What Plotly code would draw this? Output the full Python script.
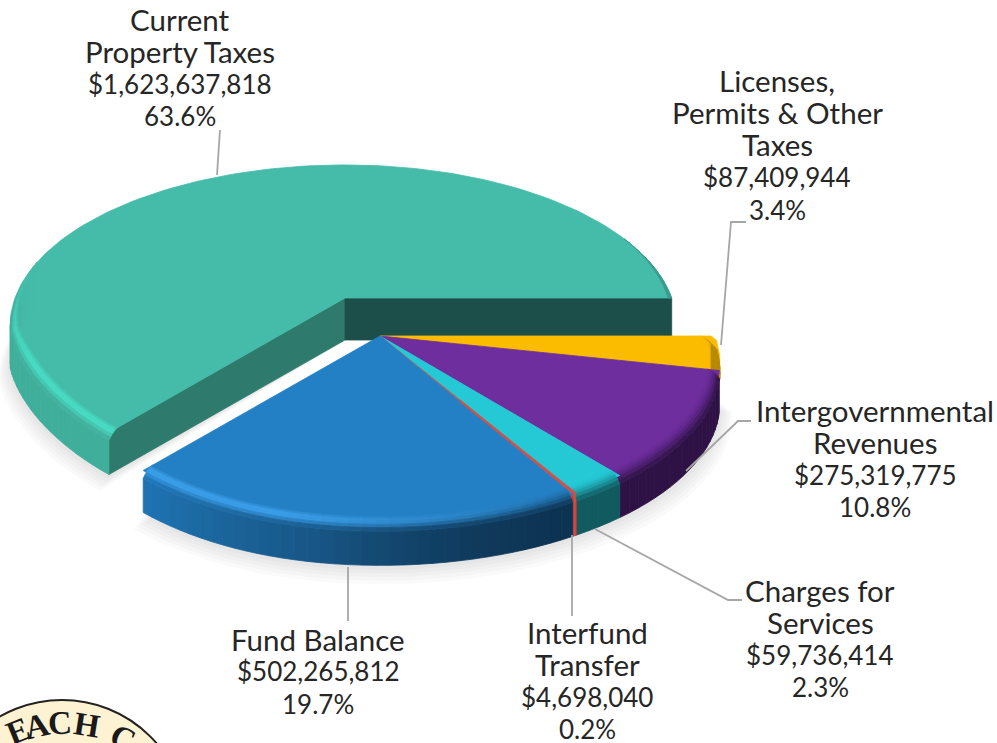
import math
import plotly.graph_objects as go

# ---- data ----
categories = [["Current", "Property Taxes"], ["Fund Balance"], ["Interfund", "Transfer"],
              ["Charges for", "Services"], ["Intergovernmental", "Revenues"],
              ["Licenses,", "Permits & Other", "Taxes"]]
amounts = [1623637818, 502265812, 4698040, 59736414, 275319775, 87409944]
percents = ["63.6%", "19.7%", "0.2%", "2.3%", "10.8%", "3.4%"]
top_colors = ["#45BBA9", "#2480C4", "#D0504A", "#25C8D5", "#6E2E9E", "#FBBC00"]
wall_colors = ["#3FAE9B", "#1F74B4", "#B03A36", "#115A60", "#2E1245", "#B98A00"]
bright_colors = ["#48DCC4", "#3C9FEA", "#D0504A", "#25C8D5", "#6E2E9E", "#FBBC00"]
label_centers = [(180, 19), (318, 639), (587, 632), (820, 590), (875, 410), (777, 80)]

W, H = 997, 743
A, B, K = 330, 155.6, 5.9
DEPTH = 42
LINE_STEP = 32.4
main_apex = (345, 298)
group_apex = (380, 336)
group_a = 331

total = sum(amounts)
starts = []
acc = 0.0
for v in amounts:
    starts.append(acc)
    acc += v / total * 360


def x_scale(apex, deg):
    s = 1.0
    d = deg % 360
    if 190 < d < 270:
        s *= 1 - 0.05 * math.sin(math.pi * (d - 190) / 80)
    if apex is main_apex and math.cos(math.radians(d)) > 0:
        s *= 0.99
    if apex is group_apex and d > 300:
        s *= 1 + 0.012 * min(1, (d - 300) / 50)
    return s


def project(apex, a, deg, r=1.0, z=0.0):
    t = math.radians(deg)
    y_depth = r * math.sin(t)
    f = 1 / (1 + y_depth / K)
    return (apex[0] + a * r * math.cos(t) * f * x_scale(apex, deg),
            apex[1] - B * y_depth * f + z)


def rgb(h):
    return [int(h[i:i + 2], 16) for i in (1, 3, 5)]


def mix(c1, c2, t):
    return "#%02x%02x%02x" % tuple(round(p + (q - p) * t) for p, q in zip(rgb(c1), rgb(c2)))


def frange(a, b, step):
    n = max(1, int(round((b - a) / step)))
    return [a + (b - a) * i / n for i in range(n + 1)]


fig = go.Figure()


def poly(pts, color, opacity=1.0, edge=True):
    xs = [p[0] for p in pts] + [pts[0][0]]
    ys = [p[1] for p in pts] + [pts[0][1]]
    fig.add_trace(go.Scatter(
        x=xs, y=ys, mode="lines", fill="toself", fillcolor=color, opacity=opacity,
        line=dict(color=color, width=0.8 if edge else 0), hoverinfo="skip", showlegend=False))


def shade(deg):
    """Wall lighting: bright on the left, falling off to the right."""
    if deg <= 229:
        return 1.0
    return max(0.42, 1.0 - (deg - 229) / 71 * 0.58)


def strip(apex, a, d0, d1, r0, z0, r1, z1, color):
    poly([project(apex, a, d0, r0, z0), project(apex, a, d1, r0, z0),
          project(apex, a, d1, r1, z1), project(apex, a, d0, r1, z1)], color)


def wall(apex, a, i, d0, d1, bevel_r=0.965, bevel_z=8):
    angles = frange(d0, d1, 2)
    for p, q in zip(angles, angles[1:]):
        m = (p + q) / 2
        base = wall_colors[i]
        depth = DEPTH
        if i == 1:
            base = mix("#000000", base, shade(m))
            base = mix(base, "#0D3355", 0.6 * max(0.0, min(1.0, (m - 262) / 30)))
        if i == 5:
            # the yellow wall is hidden by its neighbour below the rim
            depth = 8 + (m - d0) / (d1 - d0) * 28
        width = 1.0
        if i == 0:
            width = max(0.0, min(1.0, (m - 165) / 35))
            base = mix("#45BBA9", base, min(1.0, max(0.0, (m - 172) / 12)))
        strip(apex, a, p, q, 1, bevel_z * width, 1, depth, base)
        if i == 0:
            hl = 1.0
        elif i == 1:
            hl = max(0.0, min(1.0, (300 - m) / 45))
        else:
            hl = 0.0
        n = 6
        br = 1 - (1 - bevel_r) * width
        for b in range(n):
            t0, t1 = b / n, (b + 1) / n
            tm = (t0 + t1) / 2
            c = mix(top_colors[i], base, tm * tm)
            c = mix(c, bright_colors[i], hl * width * math.sin(math.pi * tm) ** 2)
            strip(apex, a, p, q,
                  br + (1 - br) * t0, bevel_z * width * t0 * t0,
                  br + (1 - br) * t1, bevel_z * width * t1 * t1, c)


def top(apex, a, i):
    d0 = starts[i]
    d1 = starts[i + 1] if i + 1 < len(starts) else 360
    pts = [apex] + [project(apex, a, d) for d in frange(d0, d1, 1.5)]
    poly(pts, top_colors[i])


def shadow(apex, a, d0, d1):
    for s in range(6):
        pts = [project(apex, a, d, 1 + 0.007 * s, DEPTH + 1 + 2 * s) for d in frange(d0, d1, 3)]
        pts += [(apex[0], apex[1] + DEPTH)]
        poly(pts, "#808080", opacity=0.04, edge=False)


# green slice, pulled back
g_end = starts[1]
shadow(main_apex, A, 170, g_end)
poly([main_apex, project(main_apex, A, g_end), project(main_apex, A, g_end, 1, DEPTH),
      (main_apex[0], main_apex[1] + DEPTH)], "#2E7B6D")
poly([main_apex, project(main_apex, A, 0), project(main_apex, A, 0, 1, DEPTH),
      (main_apex[0], main_apex[1] + DEPTH)], "#1C4F49")
top(main_apex, A, 0)
wall(main_apex, A, 0, 166, g_end)
ang = frange(0, 24, 2)
for p, q in zip(ang, ang[1:]):
    strip(main_apex, A, p, q, 1 - 0.012 * (24 - q) / 24, 0, 1, 0, "#3A9C8C")

# remaining slices, moved towards the viewer
shadow(group_apex, group_a, g_end, 352)
for i in [5, 4, 3, 2, 1]:
    d0 = starts[i]
    d1 = starts[i + 1] if i + 1 < len(starts) else 360
    top(group_apex, group_a, i)
    wall(group_apex, group_a, i, d0, d1)
# the very thin transfer slice is drawn as a line over its neighbours
rad = [project(group_apex, group_a, starts[2] + 0.35, 0.45),
       project(group_apex, group_a, starts[2] + 0.35),
       project(group_apex, group_a, starts[2] + 0.35, 1, DEPTH)]
fig.add_trace(go.Scatter(x=[p[0] for p in rad], y=[p[1] for p in rad], mode="lines",
                         line=dict(color=top_colors[2], width=2),
                         hoverinfo="skip", showlegend=False))

# leader lines
leaders = [[(217, 175), (220, 130)],
           [(721, 345), (731, 222), (746, 222)],
           [(686, 471), (738, 421), (751, 421)],
           [(595, 529), (728, 600), (742, 600)],
           [(572, 535), (572, 616)],
           [(348, 567), (348, 621)]]
for seg in leaders:
    fig.add_trace(go.Scatter(x=[p[0] for p in seg], y=[p[1] for p in seg], mode="lines",
                             line=dict(color="#A6A6A6", width=1.8),
                             hoverinfo="skip", showlegend=False))

# labels, one text per line so the line spacing matches
annotations = []
for name, v, pct, (cx, cy) in zip(categories, amounts, percents, label_centers):
    for n, line in enumerate(name + [f"${v:,}", pct]):
        numeric = n >= len(name)
        annotations.append(dict(x=cx, y=cy + n * LINE_STEP, xref="x", yref="y", showarrow=False,
                                text=line, align="center",
                                font=dict(family="Lato", size=26 if numeric else 29.5, color="#262626")))

# seal in the corner
seal_letters = [("E", 18, 731, -22), ("A", 37, 726, -13), ("C", 60, 723, -4),
                ("H", 87, 725, 9), ("C", 123, 738, 25)]
for ch, x, y, ang_ in seal_letters:
    annotations.append(dict(x=x, y=y, xref="x", yref="y", showarrow=False, text=f"<b>{ch}</b>",
                            textangle=ang_, font=dict(family="Liberation Serif", size=33, color="#1A1A1A")))

fig.update_layout(
    width=W, height=H, margin=dict(l=0, r=0, t=0, b=0), showlegend=False,
    plot_bgcolor="white", paper_bgcolor="white", annotations=annotations,
    xaxis=dict(range=[0, W], visible=False, fixedrange=True),
    yaxis=dict(range=[H, 0], visible=False, fixedrange=True),
    shapes=[dict(type="circle", xref="x", yref="y", x0=62 - 125, x1=62 + 125, y0=700, y1=950,
                 fillcolor="#FDF3D3", line=dict(color="#222222", width=2), layer="below")],
)
fig.write_html("out.html", config={"displayModeBar": False},
               post_script="document.body.style.margin='0';")
